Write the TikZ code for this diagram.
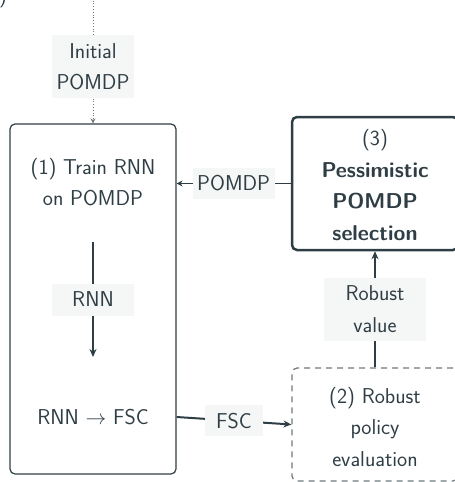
\documentclass[tikz,border=0pt]{standalone}
\usepackage{fontspec}
\usetikzlibrary{arrows.meta}
\definecolor{ink}{HTML}{2F3E45}
\definecolor{tagbg}{HTML}{F5F6F6}
\definecolor{dashink}{HTML}{6E7A7F}
\begin{document}
\begin{tikzpicture}[x=1pt,y=-1pt,
  every node/.style={font=\sffamily\fontsize{21.5}{31.5}\selectfont, text=ink},
  stagebox/.style={draw=ink, rounded corners=5pt, inner sep=0pt},
  txt/.style={align=center, inner sep=0pt},
  tag/.style={fill=tagbg, inner sep=0pt, align=center},
  flow/.style={draw=ink, line width=2pt, -{Stealth[length=8pt,width=7pt]}},
]
\useasboundingbox (0,0) rectangle (455,482);
\clip (0,0) rectangle (455,482);

% fragment of a neighbouring caption
\node[inner sep=0pt, anchor=base] (frag) at (3,2) {)};

% stage boxes
\node[stagebox, line width=1.2pt, minimum width=166pt, minimum height=350pt] (s1) at (93,299) {};
\node[stagebox, line width=2.5pt, minimum width=166pt, minimum height=133pt] (s3) at (375,183.5) {};
\node[stagebox, draw=dashink, line width=1.2pt, dash pattern=on 6pt off 5pt,
      minimum width=166pt, minimum height=113pt] (s2) at (375,424.5) {};

% texts inside the boxes
\node[txt] (t1) at (93,182) {(1) Train RNN\\on POMDP};
\node[txt] (conv) at (93,417) {RNN $\rightarrow$ FSC};
\node[txt] (t3) at (375,185) {(3)\\\textbf{Pessimistic}\\\textbf{POMDP}\\\textbf{selection}};
\node[txt] (t2) at (375,427) {(2) Robust\\policy\\evaluation};

% incoming model
\coordinate (src) at (93,-5);
\draw[draw=dashink, line width=0.8pt, dotted, -{Stealth[length=5pt,width=5pt]}]
  (src) -- node[tag, pos=0.56, minimum width=82pt, minimum height=63pt] (lin) {Initial\\POMDP} (s1.north);

% training produces an RNN
\draw[flow, shorten <=60pt, shorten >=60pt] (t1.center) --
  node[tag, minimum width=82pt, minimum height=32pt] (lrnn) {RNN} (conv.center);

% extracted controller to evaluation
\draw[flow] (conv -| s1.east) --
  node[tag, minimum width=58pt, minimum height=31pt] (lfsc) {FSC} (s2.west);

% robust value to selection
\draw[flow] (s2.north) --
  node[tag, minimum width=102pt, minimum height=63pt] (lval) {Robust\\value} (s3.south);

% selected POMDP back to training
\draw[flow, line width=1.8pt, -{Stealth[length=6pt,width=6pt]}] (s3.west) --
  node[tag, minimum width=82pt, minimum height=31pt] (lpom) {POMDP} (s3.west -| s1.east);
\end{tikzpicture}
\end{document}
